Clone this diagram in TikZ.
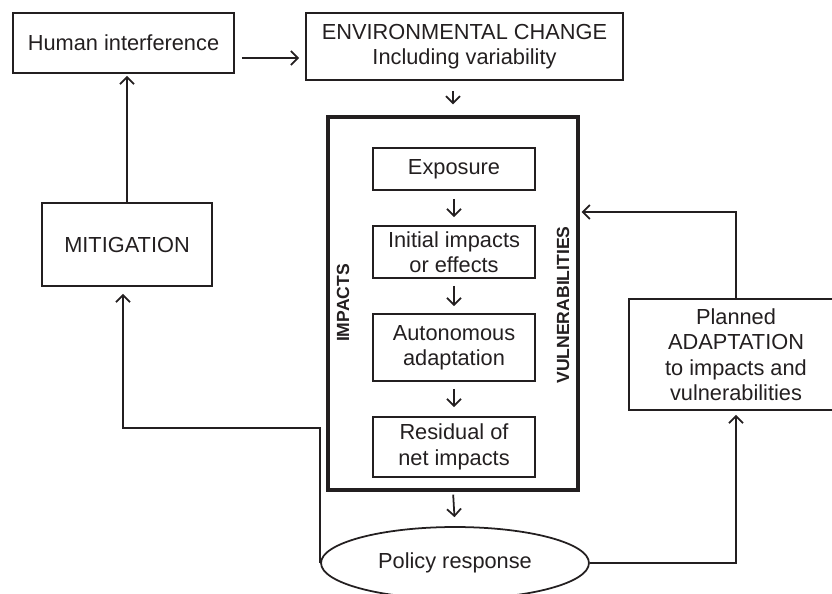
\documentclass[tikz,border=0pt]{standalone}
\usepackage{fontspec}
\setmainfont{Liberation Sans}
\usepackage{tikz}
\usetikzlibrary{arrows.meta,shapes.geometric}
\definecolor{ink}{HTML}{231F20}

\begin{document}
\begin{tikzpicture}[x=0.02cm,y=-0.02cm,ink,
		box/.style={draw,line width=1pt,inner sep=0pt,align=center,font=\fontsize{12.4}{14.5}\selectfont},
		frame/.style={draw,line width=1.8pt,inner sep=0pt},
		tag/.style={rotate=90,font=\fontsize{10}{12}\selectfont\bfseries},
		arr/.style={line width=1pt,-{Straight Barb[length=4pt,width=8pt,line width=1pt]}}]
			\useasboundingbox (0,0) rectangle (832,593);
			\clip (0,0) rectangle (832,593);

			\node[box,minimum width=4.42cm,minimum height=1.2cm] (human) at (123.5,43) {Human interference};
			\node[box,minimum width=6.34cm,minimum height=1.34cm] (env) at (464.5,46.5) {ENVIRONMENTAL CHANGE\\Including variability};
			\node[box,minimum width=3.4cm,minimum height=1.66cm] (mitig) at (127,244.5) {MITIGATION};

			\node[frame,minimum width=5cm,minimum height=7.46cm] (frame) at (453,303.5) {};
			\node[tag] (impacts) at (343,303) {IMPACTS};
			\node[tag] (vulner) at (563,305) {VULNERABILITIES};

			\node[box,minimum width=3.24cm,minimum height=0.84cm] (expo) at (454,169) {Exposure};
			\node[box,minimum width=3.24cm,minimum height=1.04cm] (initial) at (454,252) {Initial impacts\\or effects};
			\node[box,minimum width=3.24cm,minimum height=1.34cm] (auton) at (454,347.5) {Autonomous\\adaptation};
			\node[box,minimum width=3.24cm,minimum height=1.2cm] (resid) at (454,447) {Residual of\\net impacts};

			\node[box,ellipse,minimum width=5.36cm,minimum height=1.44cm] (policy) at (455,563) {Policy response};
			\node[box,minimum width=4.28cm,minimum height=2.22cm] (planned) at (736,354.5) {Planned\\ADAPTATION\\to impacts and\\vulnerabilities};

			\coordinate (bend) at (123,428);

			\draw[arr,shorten <=0.14cm,shorten >=0.12cm] ([yshift=-0.3cm]human.east) -- ([yshift=-0.3cm]human.east -| env.west);
			\draw[arr,shorten <=0.2cm,shorten >=0.22cm] (frame.north |- env.south) -- (frame.north);
			\draw[arr,shorten <=0.16cm,shorten >=0.16cm] (expo) -- (initial);
			\draw[arr,shorten <=0.14cm,shorten >=0.14cm] (initial) -- (auton);
			\draw[arr,shorten <=0.14cm,shorten >=0.18cm] (auton) -- (resid);
			\draw[arr,shorten <=0.06cm,shorten >=0.18cm] (frame.south) -- (policy.north);
			\draw[arr,shorten >=0.04cm] (mitig.north) -- (mitig.north |- human.south);
			\draw[arr,shorten >=0.14cm] (policy.west) |- (bend) -- (bend |- mitig.south);
			\draw[arr,shorten >=0.08cm] (policy.east) -| (planned.south);
			\draw[arr,shorten >=0.04cm] (planned.north) |- ([yshift=1.83cm]frame.east);
		\end{tikzpicture}
\end{document}
